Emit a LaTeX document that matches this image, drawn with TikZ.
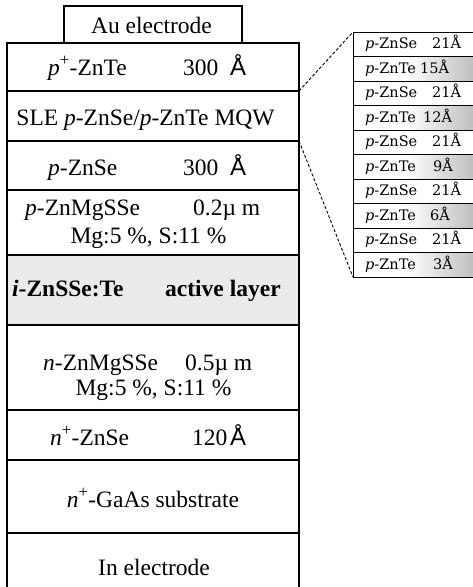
\documentclass[tikz,border=0pt]{standalone}
\usepackage{fontspec}
\setmainfont{Liberation Serif}
\newfontfamily\angfont{Liberation Sans}
\newfontfamily\insetfont{DejaVu Serif}
\begin{document}
\begin{tikzpicture}[x=1pt,y=-1pt,
  edge/.style={line width=1.1pt},
  thin edge/.style={line width=0.8pt},
  zoomline/.style={line width=0.9pt, dash pattern=on 3pt off 2pt},
  txt/.style={inner sep=0pt, anchor=base west, font=\fontsize{23.5}{26}\selectfont},
  ctxt/.style={inner sep=0pt, anchor=base, font=\fontsize{23.5}{26}\selectfont},
  ang/.style={inner sep=0pt, anchor=base west, font=\angfont\fontsize{24}{26}\selectfont},
  itxt/.style={inner sep=0pt, anchor=base west, font=\insetfont\fontsize{14.5}{16}\selectfont},
  active/.style={fill=black!8},
  tefill/.style={left color=white, right color=black!25}]
\useasboundingbox (0,0) rectangle (473,587);

% ---- layer stack ----
\fill[active] (7,255) rectangle (299,325);
\draw[edge] (64,43) -- (64,6) -- (242,6) -- (242,43);
\draw[edge] (7,587) -- (7,43) -- (299,43) -- (299,587);
\foreach \y in {91,141,190,255,325,410,460,533}
  \draw[edge] (7,\y) -- (299,\y);
\coordinate (sleTop) at (299,91);
\coordinate (sleBot) at (299,141);

\node[ctxt] (au) at (151.5,33) {Au electrode};
\node[txt] (pte) at (48,75) {\textit{p}\textsuperscript{+}-ZnTe};
\node[txt] (pte-d) at (183,75) {300};
\node[ang] (pte-a) at (230,75) {Å};
\node[ctxt] (sle) at (145.5,125) {SLE \textit{p}-ZnSe/\textit{p}-ZnTe MQW};
\node[txt] (pse) at (48,175) {\textit{p}-ZnSe};
\node[txt] (pse-d) at (183,175) {300};
\node[ang] (pse-a) at (230,175) {Å};
\node[txt] (pclad) at (25,215) {\textit{p}-ZnMgSSe};
\node[txt] (pclad-d) at (193,215) {0.2µ m};
\node[ctxt] (pclad-c) at (148.5,243) {Mg:5 \%, S:11 \%};
\node[txt,font=\bfseries\fontsize{23.5}{26}\selectfont] (act) at (12,296) {\textit{i}-ZnSSe:Te};
\node[txt,font=\bfseries\fontsize{23.5}{26}\selectfont] (act-l) at (165,296) {active layer};
\node[txt] (nclad) at (43,370) {\textit{n}-ZnMgSSe};
\node[txt] (nclad-d) at (185,370) {0.5µ m};
\node[ctxt] (nclad-c) at (153.5,395) {Mg:5 \%, S:11 \%};
\node[txt] (nse) at (50,445) {\textit{n}\textsuperscript{+}-ZnSe};
\node[txt] (nse-d) at (192,445) {120};
\node[ang] (nse-a) at (230,445) {Å};
\node[ctxt] (sub) at (153,507) {\textit{n}\textsuperscript{+}-GaAs substrate};
\node[ctxt] (in) at (154,575) {In electrode};

% ---- MQW detail ----
\foreach \i in {1,3,5,7,9}
  \fill[tefill] (405,{32+24.5*\i}) rectangle (473,{32+24.5*(\i+1)});
\foreach \i in {0,...,10}
  \draw[thin edge] (353,{32+24.5*\i}) -- (473,{32+24.5*\i});
\draw[thin edge] (353,32) -- (353,277);
\coordinate (mqwTop) at (353,32);
\coordinate (mqwBot) at (353,277);

\foreach \i/\name/\nx/\val in {0/ZnSe/432/21,1/ZnTe/420/15,2/ZnSe/432/21,3/ZnTe/423/12,
    4/ZnSe/432/21,5/ZnTe/433/9,6/ZnSe/432/21,7/ZnTe/430/6,8/ZnSe/432/21,9/ZnTe/433/3}{
  \node[itxt] (m\i) at (365,{32+24.5*\i+16.5}) {\textit{p}-\name};
  \node[itxt] (v\i) at (\nx,{32+24.5*\i+16.5}) {\val Å};
}

\draw[zoomline] (sleTop) -- (mqwTop);
\draw[zoomline] (sleBot) -- (mqwBot);
\end{tikzpicture}
\end{document}
